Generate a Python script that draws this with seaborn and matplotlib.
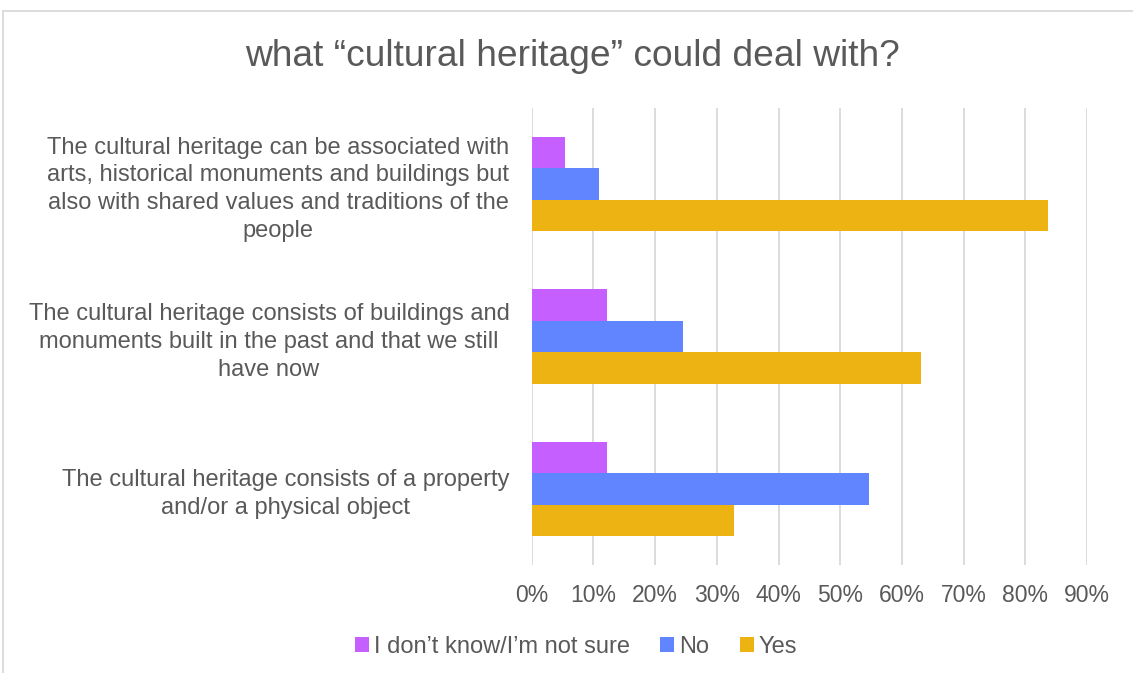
import matplotlib
matplotlib.use("Agg")
import matplotlib.pyplot as plt
from matplotlib.patches import Patch, Rectangle
import seaborn as sns
import pandas as pd

# Survey statements (top to bottom) and share of answers per option
statements = [
    "The cultural heritage can be associated with\narts, historical monuments and buildings but\nalso with shared values and traditions of the\npeople",
    "The cultural heritage consists of buildings and\nmonuments built in the past and that we still\nhave now",
    "The cultural heritage consists of a property\nand/or a physical object",
]
answers = ["I don\u2019t know/I\u2019m not sure", "No", "Yes"]
dont_know = [0.054, 0.122, 0.122]
no = [0.109, 0.246, 0.547]
yes = [0.836, 0.631, 0.328]
ticks = [0.0, 0.1, 0.2, 0.3, 0.4, 0.5, 0.6, 0.7, 0.8, 0.9]
colors = ["#C65FFF", "#6085FF", "#ECB312"]

rows = []
for series, vals in zip(answers, [dont_know, no, yes]):
    for s, v in zip(statements, vals):
        rows.append({"statement": s, "answer": series, "share": v})
df = pd.DataFrame(rows)

sns.set_theme(style="white")
plt.rcParams["font.family"] = ["Liberation Sans", "DejaVu Sans"]
text_color = "#595959"

W, H = 1133, 673
fig = plt.figure(figsize=(W / 100, H / 100), dpi=100)
fig.patch.set_facecolor("white")

# light frame around the chart area
fig.add_artist(Rectangle((3 / W, -0.1), 1.2, 1.1 - 11 / H, transform=fig.transFigure,
                         fill=False, edgecolor="#D9D9D9", linewidth=1.3))

ax = fig.add_axes([531.7 / W, (H - 565) / H, 555.3 / W, 457.3 / H])
sns.barplot(data=df, y="statement", x="share", hue="answer", order=statements,
            hue_order=answers, palette=colors, orient="h", width=0.62,
            saturation=1, ax=ax, legend=False, edgecolor="none")

ax.set_xlim(0, 0.9)
ax.set_xticks(ticks)
ax.set_xticklabels([f"{int(round(t * 100))}%" for t in ticks])
ax.xaxis.grid(True, color="#D9D9D9", linewidth=1.3)
ax.yaxis.grid(False)
ax.set_axisbelow(True)
for sp in ax.spines.values():
    sp.set_visible(False)
ax.set_xlabel("")
ax.set_ylabel("")
ax.tick_params(axis="x", length=0, labelsize=16.5, labelcolor=text_color, pad=14)
ax.tick_params(axis="y", length=0, labelsize=17, labelcolor=text_color, pad=16)
for lab in ax.get_yticklabels():
    lab.set_multialignment("center")
    lab.set_linespacing(1.34)

fig.text(572 / W, 1 - 57 / H, "what \u201ccultural heritage\u201d could deal with?",
         ha="center", va="center", fontsize=26.7, color=text_color)

handles = [Patch(facecolor=c, edgecolor="none") for c in colors]
fig.legend(handles, answers, loc="center", bbox_to_anchor=(576 / W, 1 - 647 / H),
           ncol=3, frameon=False, fontsize=17, labelcolor=text_color,
           handlelength=0.6, handleheight=0.6, handletextpad=0.2,
           columnspacing=1.3, borderpad=0)

fig.savefig("out.png", dpi=100, facecolor="white")
